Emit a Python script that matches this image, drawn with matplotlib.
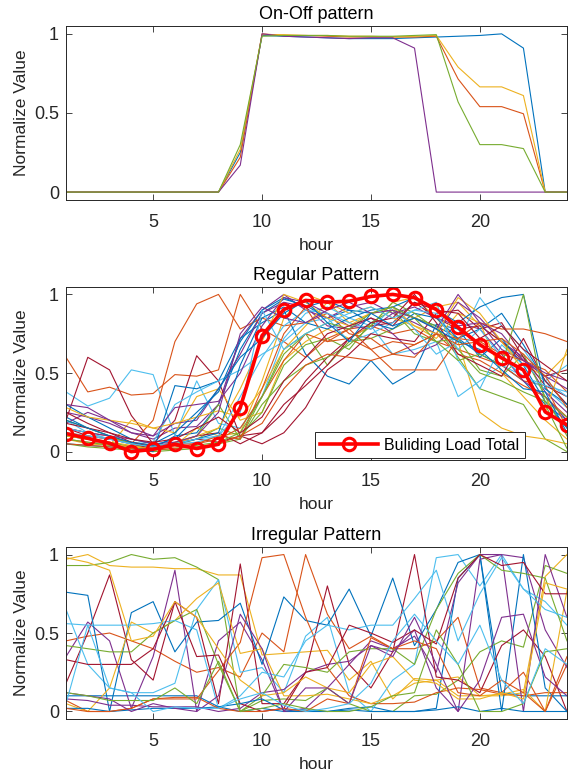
import numpy as np
import matplotlib
matplotlib.use('Agg')
import matplotlib.pyplot as plt
from matplotlib.ticker import FormatStrFormatter

plt.rcParams['font.family'] = ['Liberation Sans', 'DejaVu Sans']

# hours of the day
hours = list(range(1, 25))

# MATLAB default colour order
matlab_colors = ['#0072BD', '#D95319', '#EDB120', '#7E2F8E',
                 '#77AC30', '#4DBEEE', '#A2142F']

# On-Off pattern profiles
onoff_profiles = [
    [0, 0, 0, 0, 0, 0, 0, 0, 0.25, 0.99, 0.985, 0.98, 0.975, 0.97, 0.97, 0.97,
     0.975, 0.98, 0.985, 0.99, 1.0, 0.91, 0, 0],
    [0, 0, 0, 0, 0, 0, 0, 0, 0.22, 1.0, 0.99, 0.99, 0.985, 0.98, 0.98, 0.98,
     0.98, 0.985, 0.715, 0.54, 0.54, 0.495, 0, 0],
    [0, 0, 0, 0, 0, 0, 0, 0, 0.27, 0.995, 0.995, 0.99, 0.99, 0.985, 0.985, 0.98,
     0.985, 0.99, 0.79, 0.665, 0.665, 0.61, 0, 0],
    [0, 0, 0, 0, 0, 0, 0, 0, 0.17, 1.0, 0.985, 0.98, 0.975, 0.97, 0.975, 0.975,
     0.91, 0, 0, 0, 0, 0, 0, 0],
    [0, 0, 0, 0, 0, 0, 0, 0, 0.30, 0.985, 0.99, 0.99, 0.99, 0.985, 0.985, 0.985,
     0.99, 0.995, 0.57, 0.30, 0.30, 0.275, 0, 0],
]

# Regular pattern profiles
regular_profiles = [
    [0.22, 0.15, 0.10, 0.05, 0.02, 0.10, 0.12, 0.30, 0.65, 0.88, 0.97, 0.93, 0.85, 0.90, 0.88, 0.92, 0.85, 0.80, 0.72, 0.62, 0.55, 0.45, 0.30, 0.20],
    [0.60, 0.38, 0.41, 0.36, 0.37, 0.49, 0.48, 0.52, 1.00, 0.78, 0.70, 0.60, 0.72, 0.78, 0.80, 0.75, 0.78, 0.70, 0.65, 0.60, 0.55, 0.45, 0.42, 0.15],
    [0.12, 0.08, 0.06, 0.04, 0.02, 0.04, 0.15, 0.10, 0.12, 0.45, 0.85, 1.00, 0.95, 0.82, 0.88, 0.90, 0.85, 0.92, 0.95, 0.80, 0.70, 0.55, 0.48, 0.62],
    [0.25, 0.22, 0.18, 0.12, 0.08, 0.15, 0.16, 0.30, 0.72, 0.90, 1.00, 0.90, 0.85, 0.92, 0.95, 0.88, 0.82, 0.75, 0.95, 0.85, 0.70, 0.60, 0.38, 0.25],
    [0.05, 0.03, 0.02, 0.01, 0.00, 0.01, 0.02, 0.05, 0.08, 0.35, 0.65, 0.75, 0.55, 0.70, 0.72, 0.78, 0.85, 0.80, 0.60, 0.40, 0.35, 0.30, 0.08, 0.00],
    [0.38, 0.29, 0.34, 0.52, 0.49, 0.10, 0.45, 0.18, 0.15, 0.35, 0.72, 0.88, 0.92, 0.85, 0.80, 0.62, 0.65, 0.70, 0.35, 0.45, 0.55, 0.48, 0.40, 0.28],
    [0.20, 0.60, 0.52, 0.23, 0.05, 0.20, 0.61, 0.45, 0.10, 0.12, 0.25, 0.45, 0.60, 0.72, 0.80, 0.82, 0.95, 0.85, 0.78, 0.80, 0.70, 0.58, 0.48, 0.52],
    [0.10, 0.08, 0.05, 0.02, 0.00, 0.42, 0.40, 0.45, 0.72, 0.82, 0.90, 0.62, 0.48, 0.43, 0.58, 0.43, 0.51, 0.81, 0.78, 0.60, 0.72, 0.55, 0.32, 0.15],
    [0.15, 0.12, 0.10, 0.05, 0.20, 0.70, 0.94, 1.00, 0.78, 0.85, 0.80, 0.82, 0.88, 0.75, 0.72, 0.62, 0.68, 0.75, 0.62, 0.58, 0.50, 0.42, 0.35, 0.22],
    [0.08, 0.05, 0.04, 0.20, 0.15, 0.12, 0.35, 0.40, 0.20, 0.25, 0.58, 0.70, 0.78, 0.72, 0.80, 0.95, 0.98, 0.85, 0.70, 0.25, 0.15, 0.10, 0.08, 0.05],
    [0.18, 0.25, 0.20, 0.15, 0.10, 0.18, 0.20, 0.40, 0.62, 0.88, 0.95, 0.92, 0.80, 0.78, 0.85, 0.75, 0.62, 0.68, 0.82, 0.78, 0.62, 0.45, 0.35, 0.20],
    [0.10, 0.08, 0.06, 0.03, 0.02, 0.04, 0.08, 0.15, 0.10, 0.25, 0.55, 0.68, 0.72, 0.65, 0.82, 0.90, 0.75, 0.70, 0.72, 0.52, 0.48, 0.62, 0.35, 0.10],
    [0.20, 0.12, 0.08, 0.05, 0.06, 0.30, 0.38, 0.45, 0.52, 0.62, 0.70, 0.82, 0.85, 0.70, 0.75, 0.82, 0.90, 0.95, 0.58, 0.40, 0.68, 0.55, 0.45, 0.55],
    [0.15, 0.10, 0.08, 0.05, 0.02, 0.05, 0.08, 0.06, 0.10, 0.05, 0.12, 0.28, 0.52, 0.62, 0.75, 0.72, 0.70, 0.88, 0.90, 0.78, 0.82, 0.60, 0.42, 0.35],
    [0.30, 0.22, 0.15, 0.08, 0.05, 0.12, 0.25, 0.38, 0.70, 0.90, 0.98, 0.92, 0.96, 0.90, 0.82, 0.78, 0.88, 0.85, 0.72, 0.78, 0.88, 0.68, 0.45, 0.30],
    [0.12, 0.10, 0.08, 0.06, 0.04, 0.05, 0.05, 0.08, 0.15, 0.35, 0.58, 0.75, 0.70, 0.72, 0.65, 0.70, 0.68, 0.75, 0.72, 0.70, 0.62, 0.58, 0.52, 0.38],
    [0.28, 0.22, 0.20, 0.18, 0.15, 0.18, 0.22, 0.26, 0.22, 0.40, 0.65, 0.80, 0.95, 0.88, 0.92, 0.85, 0.80, 0.72, 0.88, 0.82, 0.50, 0.35, 0.20, 0.08],
    [0.30, 0.28, 0.20, 0.12, 0.10, 0.28, 0.30, 0.32, 0.50, 0.80, 0.98, 0.95, 0.88, 0.80, 0.78, 0.88, 0.92, 0.85, 0.80, 0.82, 0.65, 0.58, 0.48, 0.40],
    [0.20, 0.15, 0.10, 0.05, 0.03, 0.06, 0.10, 0.30, 0.08, 0.30, 0.45, 0.55, 0.60, 0.68, 0.80, 0.95, 0.88, 0.78, 0.65, 0.50, 0.45, 0.38, 0.32, 0.22],
    [0.12, 0.10, 0.08, 0.05, 0.04, 0.05, 0.06, 0.10, 0.35, 0.60, 0.80, 0.90, 0.88, 0.82, 0.78, 0.92, 0.78, 0.62, 0.70, 0.98, 0.80, 0.65, 0.45, 0.35],
    [0.25, 0.18, 0.12, 0.06, 0.03, 0.05, 0.10, 0.12, 0.05, 0.12, 0.30, 0.42, 0.55, 0.72, 0.82, 0.85, 1.00, 0.82, 0.62, 0.55, 0.48, 0.72, 0.45, 0.30],
    [0.05, 0.04, 0.03, 0.02, 0.02, 0.05, 0.08, 0.12, 0.55, 0.85, 0.92, 0.82, 0.78, 0.85, 0.90, 0.92, 0.98, 0.90, 0.82, 0.92, 0.98, 1.00, 0.40, 0.30],
    [0.08, 0.06, 0.05, 0.03, 0.02, 0.03, 0.05, 0.10, 0.08, 0.40, 0.75, 0.92, 0.70, 0.78, 0.65, 0.52, 0.52, 0.52, 0.72, 0.82, 0.78, 0.78, 0.75, 0.70],
    [0.10, 0.08, 0.05, 0.03, 0.02, 0.05, 0.10, 0.15, 0.40, 0.70, 1.00, 0.95, 0.85, 0.80, 0.88, 0.92, 0.80, 0.75, 0.98, 0.88, 0.70, 0.52, 0.25, 0.65],
    [0.15, 0.12, 0.10, 0.08, 0.05, 0.06, 0.10, 0.25, 0.75, 0.92, 0.85, 0.82, 0.90, 0.95, 0.88, 0.90, 0.85, 0.78, 1.00, 0.82, 0.75, 0.58, 0.50, 0.45],
    [0.08, 0.06, 0.04, 0.02, 0.01, 0.02, 0.04, 0.06, 0.12, 0.35, 0.62, 0.75, 0.82, 0.78, 0.88, 0.92, 0.85, 0.70, 0.58, 0.62, 0.55, 1.00, 0.30, 0.02],
    [0.15, 0.12, 0.08, 0.05, 0.03, 0.05, 0.08, 0.10, 0.25, 0.90, 0.65, 0.75, 0.82, 0.88, 0.92, 0.85, 0.90, 0.88, 0.65, 0.78, 0.60, 0.48, 0.42, 0.38],
    [0.18, 0.15, 0.12, 0.08, 0.06, 0.08, 0.15, 0.22, 0.12, 0.22, 0.45, 0.60, 0.75, 0.80, 0.85, 0.80, 0.95, 0.90, 0.88, 0.72, 0.80, 0.65, 0.55, 0.45],
    [0.20, 0.15, 0.10, 0.06, 0.04, 0.08, 0.22, 0.40, 0.60, 0.72, 0.88, 0.96, 0.82, 0.70, 0.88, 0.80, 0.85, 0.78, 0.70, 0.65, 0.52, 0.40, 0.38, 0.12],
    [0.05, 0.04, 0.03, 0.02, 0.01, 0.02, 0.03, 0.05, 0.10, 0.18, 0.40, 0.55, 0.62, 0.60, 0.58, 0.62, 0.60, 0.75, 0.68, 0.70, 0.72, 0.62, 0.48, 0.28],
]

# building load total (normalized)
building_total = [0.115, 0.085, 0.053, 0.0, 0.015, 0.047, 0.02, 0.047, 0.28, 0.738,
                  0.904, 0.962, 0.951, 0.957, 0.987, 1.0, 0.979, 0.904, 0.79, 0.68,
                  0.596, 0.519, 0.253, 0.17]

# Irregular pattern profiles
irregular_profiles = [
    [0.10, 0.10, 0.10, 0.10, 0.10, 0.10, 0.10, 0.03, 0.00, 0.02, 0.00, 0.00, 0.00, 0.02, 0.03, 0.00, 0.00, 0.02, 0.85, 1.00, 0.12, 0.10, 0.10, 0.10],
    [0.45, 0.48, 0.50, 0.45, 0.40, 0.32, 0.25, 0.28, 0.22, 0.50, 0.38, 1.00, 0.62, 0.40, 0.48, 0.40, 0.40, 0.45, 0.60, 0.15, 0.12, 0.25, 0.00, 0.30],
    [0.97, 1.00, 0.93, 0.92, 0.92, 0.91, 0.91, 0.87, 0.87, 0.36, 0.37, 0.38, 0.39, 0.20, 0.32, 0.08, 0.21, 0.20, 0.22, 0.10, 0.10, 0.12, 0.86, 1.00],
    [0.35, 0.57, 0.45, 0.02, 0.35, 0.90, 0.00, 0.45, 0.57, 0.33, 0.00, 0.02, 0.15, 0.30, 0.45, 0.40, 0.48, 0.25, 0.82, 1.00, 1.00, 0.98, 0.52, 0.28],
    [0.93, 0.93, 0.95, 1.00, 0.97, 0.98, 0.92, 0.84, 0.00, 0.07, 0.08, 0.07, 0.15, 0.05, 0.00, 0.00, 0.10, 0.11, 0.20, 0.38, 0.45, 0.41, 0.93, 0.88],
    [0.65, 0.30, 0.15, 0.12, 0.12, 0.18, 0.65, 0.84, 0.25, 0.28, 0.12, 0.48, 0.60, 0.12, 0.00, 0.20, 0.30, 0.98, 1.00, 0.80, 1.00, 0.78, 0.70, 0.55],
    [0.18, 0.50, 0.87, 0.33, 0.20, 0.70, 0.60, 0.05, 0.94, 0.05, 0.05, 0.25, 0.80, 0.30, 0.15, 0.38, 1.00, 0.22, 0.20, 0.12, 0.42, 0.52, 0.35, 0.00],
    [0.76, 0.74, 0.00, 0.63, 0.70, 0.38, 0.57, 0.58, 0.69, 0.30, 0.73, 0.58, 0.55, 0.78, 0.48, 0.85, 0.42, 0.65, 0.95, 1.00, 0.00, 1.00, 0.15, 0.00],
    [0.07, 0.00, 0.00, 0.02, 0.08, 0.08, 0.08, 0.26, 0.44, 0.98, 1.00, 0.60, 0.28, 0.10, 0.05, 0.05, 0.06, 0.12, 0.15, 0.14, 0.11, 0.10, 0.12, 0.12],
    [0.05, 0.00, 0.15, 0.57, 0.50, 0.58, 0.72, 0.82, 0.37, 0.40, 0.10, 0.10, 0.11, 0.08, 0.05, 0.10, 0.18, 0.20, 0.10, 0.10, 0.11, 0.14, 0.00, 0.77],
    [0.08, 0.07, 0.04, 0.04, 0.03, 0.03, 0.03, 0.00, 0.02, 0.12, 0.14, 0.25, 0.30, 0.32, 0.42, 0.38, 0.52, 0.15, 0.00, 0.97, 1.00, 0.00, 1.00, 0.60],
    [0.42, 0.40, 0.38, 0.38, 0.50, 0.58, 0.65, 0.30, 0.00, 0.10, 0.30, 0.28, 0.25, 0.38, 0.40, 0.40, 0.30, 0.65, 0.88, 1.00, 0.90, 0.88, 0.85, 0.45],
    [0.56, 0.55, 0.55, 0.55, 0.56, 0.58, 0.52, 0.02, 0.10, 0.25, 0.22, 0.45, 0.55, 0.52, 0.55, 0.55, 0.72, 0.90, 0.45, 0.75, 0.98, 0.78, 0.65, 0.60],
    [0.33, 0.30, 0.30, 0.30, 0.40, 0.70, 0.35, 0.36, 0.05, 0.00, 0.02, 0.25, 0.28, 0.55, 0.50, 0.44, 0.52, 0.43, 0.85, 1.00, 0.93, 0.95, 0.75, 0.75],
    [0.02, 0.02, 0.00, 0.01, 0.02, 0.02, 0.02, 0.03, 0.05, 0.08, 0.01, 0.01, 0.00, 0.01, 0.00, 0.00, 0.00, 0.01, 0.03, 0.00, 0.02, 0.00, 0.00, 0.00],
    [0.02, 0.00, 0.00, 0.02, 0.08, 0.09, 0.09, 0.02, 0.00, 0.00, 0.02, 0.00, 0.08, 0.05, 0.47, 0.40, 0.45, 0.40, 0.12, 0.10, 0.20, 0.12, 0.00, 0.35],
    [0.98, 0.95, 0.90, 0.45, 0.48, 0.70, 0.60, 0.40, 0.20, 0.10, 0.12, 0.22, 0.15, 0.12, 0.30, 0.35, 0.20, 0.18, 0.08, 0.08, 0.12, 0.08, 0.82, 0.78],
    [0.12, 0.10, 0.08, 0.00, 0.05, 0.02, 0.00, 0.10, 0.62, 0.40, 0.00, 0.15, 0.15, 0.05, 0.42, 0.35, 0.60, 0.30, 0.00, 0.20, 0.60, 0.62, 0.22, 0.10],
    [0.12, 0.10, 0.07, 0.07, 0.07, 0.15, 0.05, 0.32, 0.00, 0.02, 0.05, 0.02, 0.00, 0.00, 0.03, 0.10, 0.12, 0.52, 0.30, 0.00, 0.00, 0.05, 0.38, 0.40],
    [0.05, 0.55, 0.15, 0.12, 0.00, 0.03, 0.02, 0.02, 0.08, 0.12, 0.04, 0.00, 0.02, 0.05, 0.18, 0.45, 0.62, 0.45, 0.30, 0.55, 0.20, 0.05, 0.40, 0.30],
]

edge = '#262626'
fig = plt.figure(figsize=(5.73, 7.77), dpi=100)

# axes rectangles [left, bottom, width, height] in figure fraction
ax_left, ax_width = 0.1152, 0.8743
panel_rects = [
    [ax_left, 0.7426, ax_width, 0.2240],
    [ax_left, 0.4086, ax_width, 0.2226],
    [ax_left, 0.0742, ax_width, 0.2222],
]
titles = ['On-Off pattern', 'Regular Pattern', 'Irregular Pattern']
panel_data = [onoff_profiles, regular_profiles, irregular_profiles]

axes = []
for rect, title, profiles in zip(panel_rects, titles, panel_data):
    ax = fig.add_axes(rect)
    for i, prof in enumerate(profiles):
        ax.plot(hours, prof, color=matlab_colors[i % len(matlab_colors)], lw=0.8)
    ax.set_xlim(1, 24)
    ax.set_ylim(-0.05, 1.05)
    ax.set_xticks([5, 10, 15, 20])
    ax.set_yticks([0, 0.5, 1])
    ax.yaxis.set_major_formatter(FormatStrFormatter('%g'))
    ax.tick_params(direction='in', length=4, width=0.6, colors=edge,
                   labelsize=13, top=True, right=True)
    ax.tick_params(axis='x', pad=10)
    ax.tick_params(axis='y', pad=5)
    for sp in ax.spines.values():
        sp.set_color(edge)
        sp.set_linewidth(0.7)
    ax.set_title(title, fontsize=13, color='black', pad=5)
    ax.set_xlabel('hour', fontsize=12.5, color=edge, labelpad=5)
    ax.set_ylabel('Normalize Value', fontsize=12.5, color=edge, labelpad=4)
    axes.append(ax)

# building total on the regular panel
ax = axes[1]
ax.plot(hours, building_total, color='red', lw=2.6, marker='o', markersize=9,
        markerfacecolor='none', markeredgewidth=2.2, label='Buliding Load Total')
leg = ax.legend(loc='lower right', bbox_to_anchor=(0.916, 0.008), fontsize=11.5,
                handlelength=3.6, borderpad=0.35, handletextpad=0.4,
                borderaxespad=0, fancybox=False, framealpha=1)
leg.get_frame().set_edgecolor(edge)
leg.get_frame().set_linewidth(0.7)

fig.savefig('out.png', dpi=100)
